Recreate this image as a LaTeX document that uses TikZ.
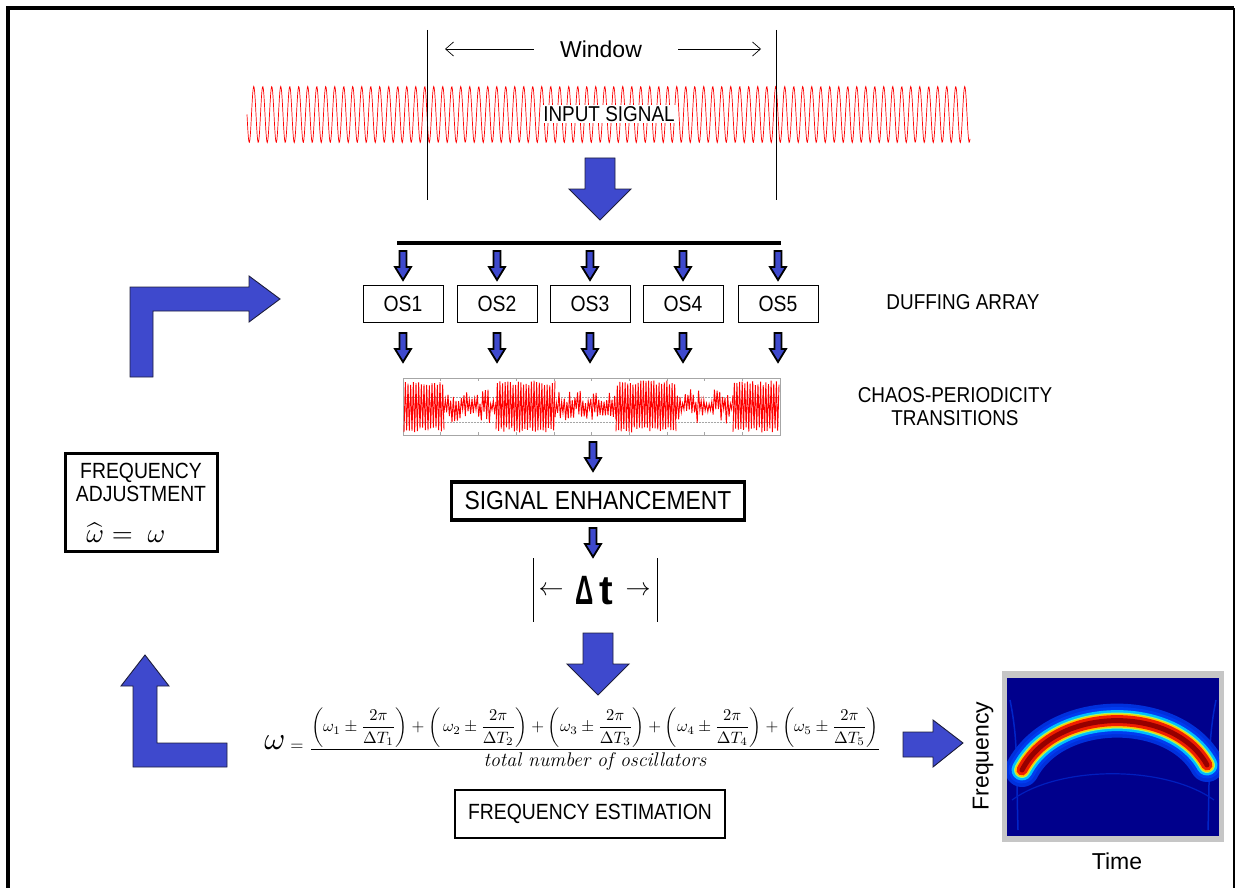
\documentclass[tikz,border=0pt]{standalone}
\usepackage{fontspec}
\usepackage{amsmath}
\usetikzlibrary{arrows.meta}
\newfontfamily\arial{Liberation Sans}
\newfontfamily\narrowarial[FakeStretch=0.88]{Liberation Sans}
\definecolor{ablue}{RGB}{62,73,205}
\definecolor{aedge}{RGB}{30,30,60}
\definecolor{specbg}{RGB}{0,0,140}
\definecolor{sc1}{RGB}{0,60,240}
\definecolor{sc2}{RGB}{0,190,255}
\definecolor{sc3}{RGB}{140,255,120}
\definecolor{sc4}{RGB}{255,200,0}
\definecolor{sc5}{RGB}{240,30,0}
\definecolor{sc6}{RGB}{150,0,0}
\newcommand\smalldown[2]{\filldraw[smallarrow] (#1-3.5,#2) -- (#1+3.5,#2) -- (#1+3.5,#2+16) -- (#1+8,#2+16) -- (#1,#2+29) -- (#1-8,#2+16) -- (#1-3.5,#2+16) -- cycle;}
\newcommand\bigdown[3]{\filldraw[bigarrow] (#1-15,#2) -- (#1+15,#2) -- (#1+15,#3-31) -- (#1+31,#3-31) -- (#1,#3) -- (#1-31,#3-31) -- (#1-15,#3-31) -- cycle;}
\begin{document}
\begin{tikzpicture}[x=1pt,y=-1pt,
  bigarrow/.style={fill=ablue, draw=aedge, line width=0.9},
  smallarrow/.style={fill=ablue, draw=black, line width=1.8, line join=miter},
  osbox/.style={draw, line width=0.9, minimum width=80, minimum height=37, inner sep=0, font=\narrowarial\fontsize{22}{24}\selectfont},
  lbl/.style={font=\narrowarial\fontsize{21.5}{23}\selectfont, align=center},
  thinarrow/.style={-{Straight Barb[length=8pt,width=14pt]}, line width=0.7}]
\useasboundingbox (0,0) rectangle (1237,888);
% frame
\draw[line width=4] (8,895) -- (8,8) -- (1234,8);
\draw[line width=2] (1234,8) -- (1234,895);

% input signal
\draw[red, line width=0.7] plot[domain=0:723, samples=1500] ({\x+247}, {114.5 + 28*sin(mod(\x,9)*40)});
\node[fill=white, inner sep=1.5, lbl] (input) at (609,114) {INPUT SIGNAL};
% window
\draw[line width=0.8] (427,30) -- (427,200);
\draw[line width=0.8] (776,30) -- (776,200);
\node[font=\arial\fontsize{23}{24}\selectfont] (window) at (601,49) {Window};
\coordinate (wl) at (445,49);
\coordinate (wr) at (761,49);
\draw[thinarrow] (window.west) ++(-23,0) -- (wl);
\draw[thinarrow] (window.east) ++(33,0) -- (wr);

\bigdown{600}{158}{220}

% bus
\draw[line width=3.5] (397,243) -- (781,243);
\foreach \i/\x in {1/403,2/497,3/590,4/683,5/778}{
  \node[osbox] (os\i) at (\x,303.5) {OS\i};
  \smalldown{\x}{251}
  \smalldown{\x}{333}
}
\node[lbl] (duff) at (963,302) {DUFFING ARRAY};
\node[lbl] (chaoslbl) at (955,407) {CHAOS-PERIODICITY\\TRANSITIONS};

% chaos plot
\pgfmathsetseed{11}
\draw[gray!70, line width=0.6] (403,378) rectangle (780,435);
\foreach \y in {397,422} \draw[gray!70, densely dotted, line width=0.5] (403,\y) -- (780,\y);
\foreach \i in {0,...,10} \draw[gray!70, line width=0.5] ({403+\i*37.7},435) -- ++(0,-3) ({403+\i*37.7},378) -- ++(0,3);
\foreach \a/\b/\amp/\lo in {404/444/26/0.8, 444/496/17/0.15, 496/555/26/0.8, 555/616/17/0.15, 616/676/26/0.8, 676/733/17/0.15, 733/779/26/0.8}{
  \pgfmathtruncatemacro\ns{(\b-\a)/1.3}
  \pgfmathsetmacro\stp{(\b-\a)/\ns}
  \draw[red, line width=0.9] plot[domain=0:\ns, samples=\ns+1] ({\a+\x*\stp}, {406.5 + \amp*(\lo+(1-\lo)*rnd)*cos(mod(round(\x),2)*180)});
}
\coordinate (chaos) at (591.5,406.5);

\smalldown{593}{442}
\node[draw, line width=3.5, minimum width=293, minimum height=38, inner sep=0, font=\narrowarial\fontsize{26}{28}\selectfont] (enh) at (598,501) {SIGNAL ENHANCEMENT};
\smalldown{593}{528}

% delta t
\draw[line width=0.9] (533,558) -- (533,622);
\draw[line width=0.9] (657,558) -- (657,622);
\node (dla) at (551,591) {\scalebox{2.5}{$\leftarrow$}};
\node[font=\arial\bfseries\fontsize{41}{41}\selectfont, inner sep=0] (dt) at (594,591) {\scalebox{0.62}[1]{Δ}\hspace{6pt}t};
\node (dra) at (638,591) {\scalebox{2.5}{$\rightarrow$}};

\bigdown{598}{633}{695}

% formula
\node (om) at (275,743) {\scalebox{3.2}{$\omega$}};
\node (eq) at (297,747) {\scalebox{1.7}{$=$}};
\node[inner sep=0] (formula) at (595,739) {\scalebox{1.65}{$\dfrac{\left(\omega_1 \pm \dfrac{2\pi}{\Delta T_1}\right) + \left(\,\omega_2 \pm \dfrac{2\pi}{\Delta T_2}\right) + \left(\omega_3 \pm \dfrac{2\pi}{\Delta T_3}\right) + \left(\omega_4 \pm \dfrac{2\pi}{\Delta T_4}\right) + \left(\omega_5 \pm \dfrac{2\pi}{\Delta T_5}\right)}{\text{\large\itshape total number of oscillators}}$}};
\node[draw, line width=2.5, minimum width=270, minimum height=48, inner sep=0, font=\narrowarial\fontsize{22}{24}\selectfont] (est) at (590,814) {FREQUENCY ESTIMATION};

% frequency adjustment
\node[draw, line width=3, minimum width=152, minimum height=98, inner sep=0] (adj) at (141,502) {};
\node[font=\narrowarial\fontsize{22}{23}\selectfont, align=center, inner sep=0] (adjtxt) at (141,482) {FREQUENCY\\ADJUSTMENT};
\node[inner sep=0] (adjeq) at (126,533) {\scalebox{2.7}{$\widehat{\omega} = \;\omega$}};

% L arrows
\filldraw[bigarrow] (130,377) -- (130,287) -- (249,287) -- (249,276) -- (280,299) -- (249,322) -- (249,311) -- (153,311) -- (153,377) -- cycle;
\filldraw[bigarrow] (133,767) -- (133,686) -- (121,686) -- (145,655) -- (169,686) -- (157,686) -- (157,743) -- (227,743) -- (227,767) -- cycle;
% right arrow
\filldraw[bigarrow] (903,732) -- (933,732) -- (933,720) -- (963,743) -- (933,767) -- (933,757) -- (903,757) -- cycle;

% spectrogram
\fill[gray!45] (1002,671) rectangle (1224,842);
\fill[specbg] (1007,678) rectangle (1219,836);
\begin{scope}
\clip (1007,678) rectangle (1219,836);
\draw[sc1!60!specbg, line width=1.5] (1010,700) .. controls (1018,740) and (1016,760) .. (1018,830);
\draw[sc1!60!specbg, line width=1.5] (1216,700) .. controls (1208,740) and (1210,760) .. (1208,830);
\draw[sc1!50!specbg, line width=1.2] (1012,800) .. controls (1060,765) and (1165,765) .. (1214,800);
\foreach \w/\c in {34/sc1!80!specbg, 27/sc1, 21/sc2, 16/sc3, 14/sc4, 11/sc5, 5/sc6}
  \draw[line width=\w, \c, line cap=round] (1022,770) .. controls (1056,705) and (1174,705) .. (1207,765);
\end{scope}
\node (spec) at (1113,756) {};
\node[rotate=90, font=\arial\fontsize{23}{24}\selectfont] (freqlbl) at (983,756) {Frequency};
\node[font=\arial\fontsize{23}{24}\selectfont] (timelbl) at (1117,861) {Time};
\end{tikzpicture}
\end{document}
